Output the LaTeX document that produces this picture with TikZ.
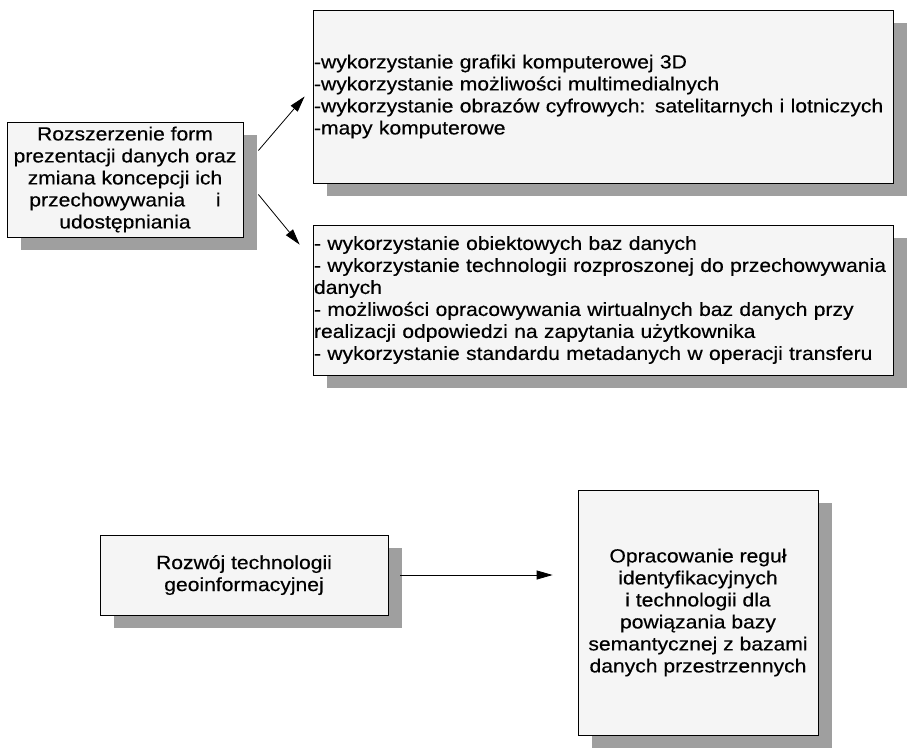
\documentclass[tikz,border=0pt]{standalone}
\usepackage{fontspec}
\setmainfont{Liberation Sans}[FakeStretch=1.11,FakeBold=0.4]
\usetikzlibrary{arrows.meta,shadows,positioning}

\tikzset{
  blok/.style={draw=black, line width=0.8pt, fill=gray!8,
    font=\fontsize{19}{22}\selectfont,
    drop shadow={shadow xshift=14pt, shadow yshift=-13pt, fill=gray!75, opacity=1}},
  lista/.style={blok, align=left, text width=578pt, inner xsep=1pt, minimum width=580pt},
  strz/.style={-{Triangle[length=16pt,width=9pt]}, line width=0.8pt},
}

\begin{document}
\begin{tikzpicture}[x=1pt,y=-1pt]
\useasboundingbox (0,0) rectangle (910,747);

% gorna czesc
\node[blok, minimum width=236pt, minimum height=115pt, align=center, inner sep=1pt] (rozszerzenie) at (125,179.5)
  {Rozszerzenie form\\prezentacji danych oraz\\zmiana koncepcji ich\\przechowywania\quad\ \ i\\udostępniania};
\node[lista, minimum height=173pt] (prezentacja) at (603,96.5)
  {-wykorzystanie grafiki komputerowej 3D\\
   -wykorzystanie możliwości multimedialnych\\
   -wykorzystanie obrazów cyfrowych: satelitarnych i lotniczych\\
   -mapy komputerowe};
\node[lista, minimum height=150pt] (przechowywanie) at (603,300)
  {- wykorzystanie obiektowych baz danych\\
   - wykorzystanie technologii rozproszonej do przechowywania\\
   danych\\
   - możliwości opracowywania wirtualnych baz danych przy\\
   realizacji odpowiedzi na zapytania użytkownika\\
   - wykorzystanie standardu metadanych w operacji transferu};

\draw[strz] ([xshift=15pt,yshift=29pt]rozszerzenie.east) -- ([xshift=-8pt]prezentacja.west);
\draw[strz] ([xshift=15pt,yshift=-15pt]rozszerzenie.east) -- ([xshift=-13pt,yshift=-20pt]przechowywanie.north west);

% dolna czesc
\node[blok, minimum width=288pt, minimum height=80pt, align=center] (rozwoj) at (244,575)
  {Rozwój technologii\\geoinformacyjnej};
\node[blok, minimum width=240pt, minimum height=245pt, align=center] (reguly) at (698,612.5)
  {Opracowanie reguł\\identyfikacyjnych\\i technologii dla\\powiązania bazy\\semantycznej z bazami\\danych przestrzennych};

\draw[strz] ([xshift=12pt]rozwoj.east) -- ([xshift=-25pt]rozwoj.east -| reguly.west);
\end{tikzpicture}
\end{document}
